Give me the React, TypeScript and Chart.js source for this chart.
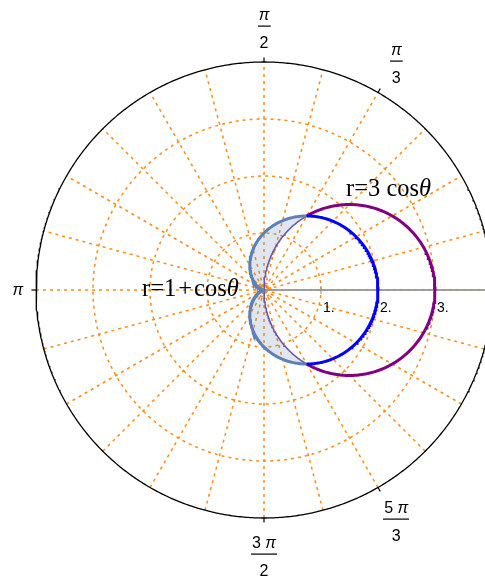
import React, { useEffect, useRef } from "react";
import { Chart, registerables } from "chart.js";

Chart.register(...registerables);

// ---- data ----
const gridRadii = [0.12, 1, 2, 3];
const outerRadius = 4;
const spokeStepDeg = 15;
const radialTickValues = [1, 2, 3];
const radialTickLabels = ["1.", "2.", "3."];
const angleTickValues = [Math.PI / 3, Math.PI / 2, Math.PI, (3 * Math.PI) / 2, (5 * Math.PI) / 3];
const angleTickNumerators = [["", "π"], ["", "π"], ["", "π"], ["3 ", "π"], ["5 ", "π"]];
const angleTickDenominators = ["3", "2", "", "2", "3"];
// label pieces: [text, extra spacing after]
const curveLabels = [
  [["r", 0], ["=", 0], ["3", 0], [" ", 0], ["cos", 0]],
  [["r", 0], ["=", 0], ["1", 2], ["+", 2], ["cos", 0]],
];
const curveLabelAnchors = [
  [1.44, 1.65],
  [-2.14, -0.105],
];

const W = 485;
const H = 582;
const CX = 264;
const CY = 290;
const S = 57;

const xMin = -CX / S;
const xMax = (W - CX) / S;
const yMax = CY / S;
const yMin = -(H - CY) / S;

const cardioid = (t: number) => 1 + Math.cos(t);
const circle3 = (t: number) => 3 * Math.cos(t);

function polar(rf: (t: number) => number, a: number, b: number, n = 240) {
  const pts: { x: number; y: number }[] = [];
  for (let i = 0; i <= n; i++) {
    const t = a + ((b - a) * i) / n;
    const r = rf(t);
    pts.push({ x: r * Math.cos(t), y: r * Math.sin(t) });
  }
  return pts;
}

const GRID = "rgb(255,140,20)";

export default function App() {
  const ref = useRef<HTMLCanvasElement | null>(null);

  useEffect(() => {
    if (!ref.current) return;
    const datasets: any[] = [];
    const line = (data: any[], color: string, width: number, order: number, extra: any = {}) => {
      datasets.push({
        data,
        showLine: true,
        borderColor: color,
        borderWidth: width,
        pointRadius: 0,
        fill: false,
        order,
        tension: 0,
        ...extra,
      });
    };

    // grid circles
    gridRadii.forEach((r) => line(polar(() => r, 0, 2 * Math.PI, 360), GRID, 1.5, 20, { borderDash: [3, 4] }));
    // spokes
    for (let d = 0; d < 180; d += spokeStepDeg) {
      const t = (d * Math.PI) / 180;
      line(
        [
          { x: -outerRadius * Math.cos(t), y: -outerRadius * Math.sin(t) },
          { x: outerRadius * Math.cos(t), y: outerRadius * Math.sin(t) },
        ],
        GRID,
        1.5,
        20,
        { borderDash: [3, 4] }
      );
    }
    // outer circle
    line(polar(() => outerRadius, 0, 2 * Math.PI, 720), "#000", 1.3, 15);
    // angle ticks
    angleTickValues.forEach((t) =>
      line(
        [
          { x: outerRadius * Math.cos(t), y: outerRadius * Math.sin(t) },
          { x: 4.08 * Math.cos(t), y: 4.08 * Math.sin(t) },
        ],
        "#000",
        1.2,
        15
      )
    );
    // radial axis
    line([{ x: 0, y: 0 }, { x: outerRadius, y: 0 }], "rgba(150,150,150,0.9)", 2.2, 14);
    radialTickValues.forEach((v) =>
      line([{ x: v, y: -0.07 }, { x: v, y: 0.07 }], "rgba(150,150,150,0.9)", 1.2, 14)
    );

    // shaded region
    const region = [
      ...polar(cardioid, Math.PI / 3, (5 * Math.PI) / 3, 300),
      ...polar(circle3, -Math.PI / 3, -Math.PI / 2, 60),
      ...polar(circle3, Math.PI / 2, Math.PI / 3, 60),
    ];
    line(region, "rgba(0,0,0,0)", 0, 12, { fill: "shape", backgroundColor: "rgba(94,129,181,0.2)" });
    // region edges
    line(polar(circle3, -Math.PI / 3, -Math.PI / 2, 60), "#6c58a4", 1.6, 11);
    line(polar(circle3, Math.PI / 2, Math.PI / 3, 60), "#6c58a4", 1.6, 11);
    line(polar(cardioid, Math.PI / 3, (5 * Math.PI) / 3, 300), "#5e81b5", 3, 10);

    // visible curves
    line(polar(cardioid, -Math.PI / 3, Math.PI / 3, 200), "#0000ff", 3, 5);
    line(polar(circle3, -Math.PI / 3, Math.PI / 3, 200), "#800080", 3, 5);

    const labelPlugin = {
      id: "labels",
      afterDraw(chart: any) {
        const ctx = chart.ctx as CanvasRenderingContext2D;
        const xs = chart.scales.x;
        const ys = chart.scales.y;
        const px = (x: number) => xs.getPixelForValue(x);
        const py = (y: number) => ys.getPixelForValue(y);
        ctx.save();
        ctx.fillStyle = "#000";
        ctx.textBaseline = "alphabetic";

        const sans = "'Liberation Sans', Arial, sans-serif";
        const drawMixed = (parts: string[], cx: number, baseline: number) => {
          const fonts = [`16px ${sans}`, `italic 16px ${sans}`];
          let total = 0;
          const widths = parts.map((p, i) => {
            ctx.font = fonts[i];
            const w = ctx.measureText(p).width;
            total += w;
            return w;
          });
          let x = cx - total / 2;
          parts.forEach((p, i) => {
            ctx.font = fonts[i];
            ctx.textAlign = "left";
            ctx.fillText(p, x, baseline);
            x += widths[i];
          });
          return total;
        };

        angleTickValues.forEach((t, i) => {
          const den = angleTickDenominators[i];
          if (den === "") {
            const r = 4.32;
            const cx = px(r * Math.cos(t));
            const cy = py(r * Math.sin(t));
            drawMixed(angleTickNumerators[i], cx, cy + 5);
            return;
          }
          const r = 4.64;
          const cx = px(r * Math.cos(t));
          const cy = py(r * Math.sin(t));
          const w = drawMixed(angleTickNumerators[i], cx, cy - 6);
          ctx.font = `16px ${sans}`;
          const wd = ctx.measureText(den).width;
          const lw = Math.max(w, wd) + 2;
          ctx.fillRect(Math.round(cx - lw / 2), Math.round(cy) - 0.5, lw, 1.2);
          ctx.textAlign = "center";
          ctx.fillText(den, cx, cy + 22);
        });

        // radial tick labels
        ctx.font = `14px ${sans}`;
        ctx.textAlign = "left";
        radialTickValues.forEach((v, i) => {
          ctx.fillText(radialTickLabels[i], px(v) + 2, py(0) + 22);
        });

        // curve labels
        const serif = "'Liberation Serif', 'Times New Roman', serif";
        curveLabels.forEach((parts, i) => {
          const [ax, ay] = curveLabelAnchors[i];
          let x = px(ax);
          const y = py(ay);
          ctx.font = `24.5px ${serif}`;
          ctx.textAlign = "left";
          (parts as any[]).forEach(([txt, gap]) => {
            ctx.fillText(txt, x, y);
            x += ctx.measureText(txt).width + gap;
          });
          ctx.font = `italic 24.5px ${serif}`;
          ctx.fillText("θ", x, y);
        });
        ctx.restore();
      },
    };

    const chart = new Chart(ref.current, {
      type: "scatter",
      data: { datasets },
      options: {
        animation: false,
        responsive: false,
        devicePixelRatio: 1,
        layout: { padding: 0 },
        plugins: { legend: { display: false }, tooltip: { enabled: false } },
        events: [],
        scales: {
          x: { type: "linear", min: xMin, max: xMax, display: false },
          y: { type: "linear", min: yMin, max: yMax, display: false },
        },
      },
      plugins: [labelPlugin],
    });
    return () => chart.destroy();
  }, []);

  return (
    <div style={{ position: "fixed", left: 0, top: 0, width: W, height: H, background: "#fff" }}>
      <canvas ref={ref} width={W} height={H} style={{ width: W, height: H, display: "block" }} />
    </div>
  );
}
